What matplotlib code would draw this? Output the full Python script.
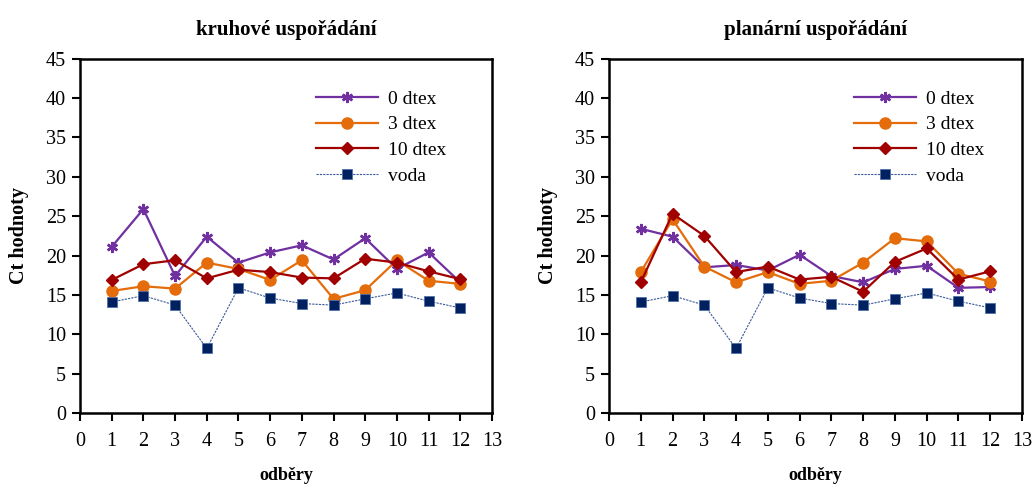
import matplotlib
matplotlib.use("Agg")
import matplotlib.pyplot as plt

odbery = list(range(1, 13))
series_names = ["0 dtex", "3 dtex", "10 dtex", "voda"]

kruh_0 = [21.1, 25.9, 17.4, 22.4, 19.1, 20.4, 21.3, 19.5, 22.2, 18.3, 20.4, 16.6]
kruh_3 = [15.5, 16.1, 15.8, 19.1, 18.3, 16.9, 19.4, 14.5, 15.6, 19.4, 16.8, 16.4]
kruh_10 = [16.9, 18.9, 19.4, 17.1, 18.2, 17.9, 17.2, 17.1, 19.6, 19.1, 18.0, 17.0]
kruh_voda = [14.1, 14.9, 13.7, 8.2, 15.9, 14.6, 13.9, 13.7, 14.5, 15.25, 14.2, 13.35]

plan_0 = [23.4, 22.4, 18.5, 18.8, 18.1, 20.1, 17.4, 16.6, 18.3, 18.7, 15.9, 16.0]
plan_3 = [17.9, 24.6, 18.6, 16.6, 17.9, 16.4, 16.8, 19.1, 22.2, 21.8, 17.7, 16.7]
plan_10 = [16.6, 25.3, 22.5, 17.9, 18.6, 16.95, 17.3, 15.4, 19.2, 20.9, 16.95, 18.0]
plan_voda = [14.1, 14.9, 13.7, 8.2, 15.9, 14.6, 13.9, 13.7, 14.5, 15.25, 14.2, 13.35]

titles = ["kruhové uspořádání", "planární uspořádání"]
x_label = "odběry"
y_label = "Ct hodnoty"

plt.rcParams['font.family'] = ['Liberation Serif', 'DejaVu Serif']

fig = plt.figure(figsize=(10.35, 4.86), dpi=100)
ax1 = fig.add_axes([0.0773, 0.1502, 0.398, 0.729])
ax2 = fig.add_axes([0.5884, 0.1502, 0.399, 0.729])

c_purple = "#7030A0"
c_orange = "#E46C0A"
c_red = "#A00000"
c_navy = "#002060"
c_vline = "#3A5A9A"

def draw(ax, d0, d3, d10, dv, title, legx):
    ax.plot(odbery, d0, color=c_purple, lw=1.6, marker=(6, 2, 0), ms=8,
            mew=1.8, mec=c_purple, label=series_names[0])
    ax.plot(odbery, d3, color=c_orange, lw=1.6, marker='o', ms=8,
            mec=c_orange, mfc=c_orange, label=series_names[1])
    ax.plot(odbery, d10, color=c_red, lw=1.6, marker='D', ms=6.5,
            mec=c_red, mfc=c_red, label=series_names[2])
    ax.plot(odbery, dv, color=c_vline, lw=0.8, ls=(0, (2, 1)), marker='s', ms=7.5,
            mfc=c_navy, mec="#5070A8", mew=0.6, label=series_names[3])
    ax.set_xlim(0, 13)
    ax.set_ylim(0, 45)
    ax.set_xticks(range(0, 14))
    ax.set_yticks(range(0, 46, 5))
    ax.tick_params(direction='out', length=6, width=1.5, labelsize=14.5, pad=4)
    ax.tick_params(axis='x', pad=8)
    for s in ax.spines.values():
        s.set_linewidth(1.8)
    ax.set_title(title, fontsize=15, fontweight='bold', pad=17)
    ax.set_xlabel(x_label, fontsize=13, fontweight='bold', labelpad=11)
    ax.set_ylabel(y_label, fontsize=14.5, fontweight='bold', labelpad=12)
    ax.legend(loc='upper left', bbox_to_anchor=(legx, 0.95), frameon=False,
              fontsize=14, handlelength=3.2, handletextpad=0.5,
              labelspacing=0.42, borderaxespad=0.3)

draw(ax1, kruh_0, kruh_3, kruh_10, kruh_voda, titles[0], 0.54)
draw(ax2, plan_0, plan_3, plan_10, plan_voda, titles[1], 0.56)

fig.savefig("out.png", dpi=100)
